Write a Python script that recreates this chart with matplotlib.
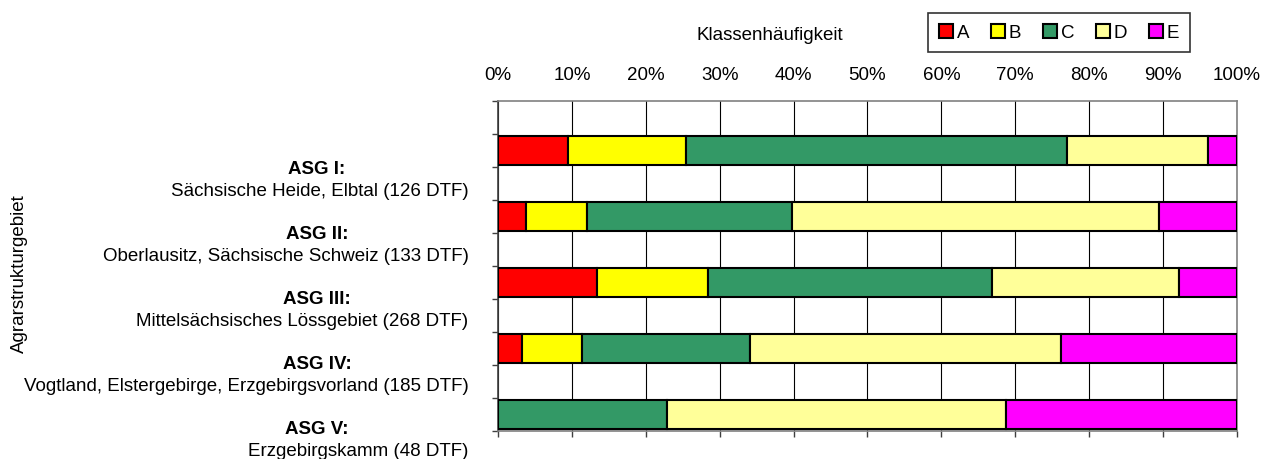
import matplotlib.pyplot as plt
import numpy as np

plt.rcParams['font.family'] = ['Liberation Sans', 'DejaVu Sans']

# Anzahl Dauertestflächen je Klasse und Agrarstrukturgebiet
regions = ["ASG I:", "ASG II:", "ASG III:", "ASG IV:", "ASG V:"]
region_names = [
    "Sächsische Heide, Elbtal (126 DTF)",
    "Oberlausitz, Sächsische Schweiz (133 DTF)",
    "Mittelsächsisches Lössgebiet (268 DTF)",
    "Vogtland, Elstergebirge, Erzgebirgsvorland (185 DTF)",
    "Erzgebirgskamm (48 DTF)",
]
classes = ["A", "B", "C", "D", "E"]
counts_A = [12, 5, 36, 6, 0]
counts_B = [20, 11, 40, 15, 0]
counts_C = [65, 37, 103, 42, 11]
counts_D = [24, 66, 68, 78, 22]
counts_E = [5, 14, 21, 44, 15]
colors = ["#FF0000", "#FFFF00", "#339966", "#FFFF99", "#FF00FF"]

FS = 13.5

counts = np.array([counts_A, counts_B, counts_C, counts_D, counts_E], dtype=float)
shares = counts / counts.sum(axis=0) * 100

fig = plt.figure(figsize=(12.64, 4.6), dpi=100)
ax = fig.add_axes([0.394, 0.061, 0.5846, 0.7174])

ypos = np.arange(len(regions)) * 2 + 1.5
left = np.zeros(len(regions))
for i, cls in enumerate(classes):
    ax.barh(ypos, shares[i], left=left, height=0.88, color=colors[i],
            edgecolor="black", linewidth=1.5, label=cls, zorder=3)
    left += shares[i]

ax.set_xlim(0, 100)
ax.set_ylim(10, 0)
ax.set_yticks(np.arange(0, 11))
ax.set_yticklabels([])
ax.set_xticks(np.arange(0, 101, 10))
ax.set_xticklabels([])
ax.tick_params(axis="both", direction="out", length=4, width=1, color="#404040")
ax.grid(axis="x", color="black", linewidth=0.8, zorder=0)
for side in ["left", "right", "top", "bottom"]:
    ax.spines[side].set_color("#808080")
    ax.spines[side].set_linewidth(1.2)
ax.spines["left"].set_color("#404040")

# Prozentbeschriftung oben mit Abstand
top = ax.secondary_xaxis("top")
top.set_xticks(np.arange(0, 101, 10))
top.set_xticklabels([f"{v}%" for v in range(0, 101, 10)], fontsize=FS)
top.tick_params(length=0, pad=13)
top.spines["top"].set_visible(False)

fig.text(770 / 1264, 1 - 35 / 460, "Klassenhäufigkeit", ha="center", va="center",
         fontsize=FS)

# Gebietsbeschriftung links
for i, (reg, name) in enumerate(zip(regions, region_names)):
    yc = 2.38 + 1.97 * i
    ax.text(-0.245, yc - 0.33, reg, transform=ax.get_yaxis_transform(),
            ha="center", va="center", fontsize=FS, fontweight="bold")
    ax.text(-0.04, yc + 0.33, name, transform=ax.get_yaxis_transform(),
            ha="right", va="center", fontsize=FS)

fig.text(19 / 1264, 1 - 274 / 460, "Agrarstrukturgebiet", rotation=90,
         ha="center", va="center", fontsize=FS)

leg = fig.legend(loc="center", bbox_to_anchor=(1059 / 1264, 1 - 33.5 / 460), ncol=5,
                 fontsize=FS, frameon=True, fancybox=False, edgecolor="black",
                 handlelength=0.75, handleheight=0.75, handletextpad=0.2,
                 columnspacing=1.15, borderpad=0.6)
leg.get_frame().set_linewidth(1.2)
for h in leg.legend_handles:
    h.set_linewidth(1.5)

fig.savefig("out.png", dpi=100)
